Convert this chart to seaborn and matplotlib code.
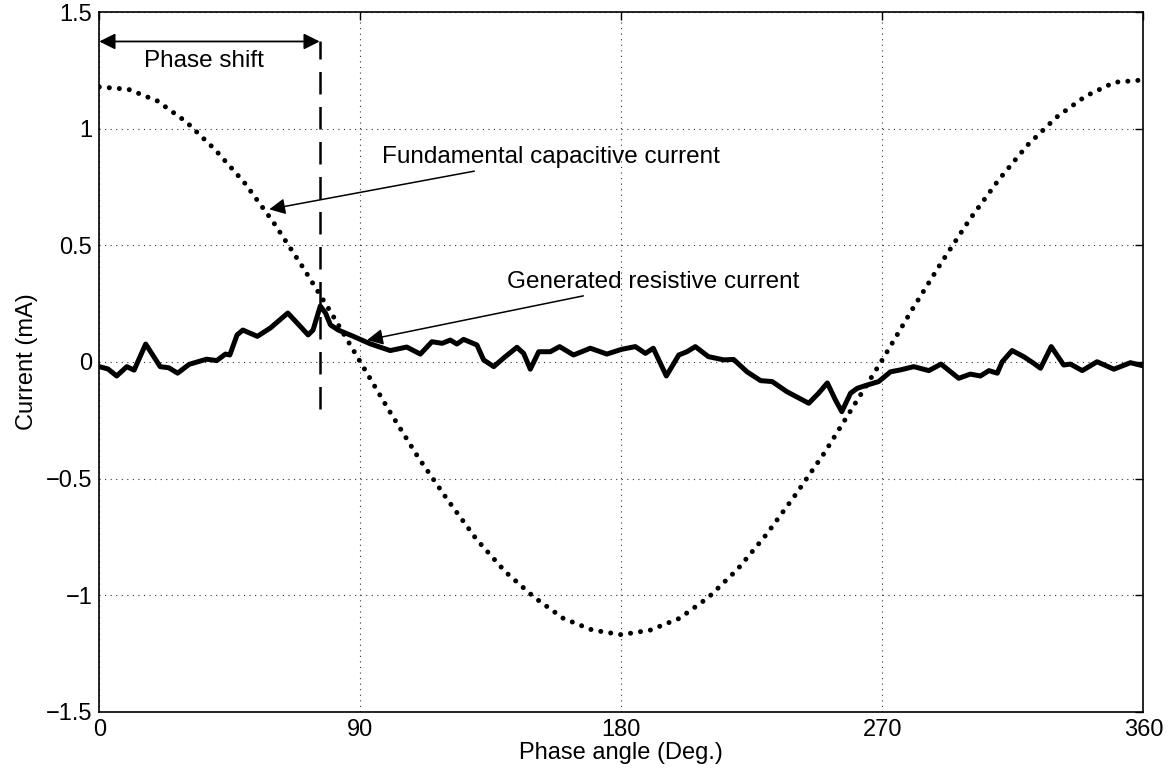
import matplotlib
matplotlib.use("Agg")
import matplotlib.pyplot as plt
import seaborn as sns

# capacitive current (dotted), read every 10 degrees
cap_deg = [0, 10, 20, 30, 40, 50, 60, 70, 80, 90, 100, 110, 120, 130, 140, 150, 160, 170, 180,
           190, 200, 210, 220, 230, 240, 250, 260, 270, 280, 290, 300, 310, 320, 330, 340, 350, 360]
cap_val = [1.18, 1.17, 1.12, 1.03, 0.91, 0.77, 0.60, 0.41, 0.21, 0.00, -0.21, -0.41, -0.59, -0.76,
           -0.90, -1.01, -1.10, -1.15, -1.17, -1.15, -1.10, -1.01, -0.89, -0.74, -0.57, -0.39, -0.19,
           0.01, 0.22, 0.42, 0.61, 0.78, 0.93, 1.05, 1.14, 1.20, 1.21]

# generated resistive current (solid)
res_deg = [0, 3, 6, 9.5, 12, 16, 21, 24, 27, 31, 37, 40.5, 43.5, 45, 47.5, 49.5, 54.5, 59, 65,
           69.5, 72, 73.7, 76.2, 78, 79.7, 82.4, 87.6, 93.4, 100.3, 106, 110.7, 114.7, 118.2, 121,
           123.3, 125.6, 130.2, 132.5, 136, 139.4, 144, 146.3, 148.6, 151.5, 155.5, 158.7, 163.5,
           169.3, 175, 180, 184.8, 188.3, 191, 195.5, 199.8, 202.6, 205.5, 210, 215.3, 218.7, 223.3,
           228, 232, 237, 244.6, 248, 251, 253.8, 256, 259, 261.3, 264.7, 268.7, 272.8, 276.2,
           280.8, 286, 290.2, 296.3, 300.3, 303.8, 306.7, 309.6, 311.3, 314.7, 318.7, 322.2, 324.5,
           328.2, 332.5, 334.8, 338.9, 344, 349.8, 355.5, 360]
res_val = [-0.02, -0.03, -0.06, -0.02, -0.035, 0.077, -0.02, -0.025, -0.048, -0.01, 0.012, 0.006,
           0.034, 0.03, 0.116, 0.137, 0.11, 0.146, 0.21, 0.15, 0.116, 0.137, 0.24, 0.21, 0.159,
           0.137, 0.11, 0.078, 0.049, 0.064, 0.034, 0.087, 0.08, 0.094, 0.077, 0.097, 0.073, 0.009,
           -0.02, 0.017, 0.063, 0.037, -0.031, 0.044, 0.044, 0.066, 0.03, 0.059, 0.034, 0.054,
           0.066, 0.037, 0.059, -0.06, 0.03, 0.044, 0.066, 0.023, 0.009, 0.011, -0.042, -0.08,
           -0.084, -0.127, -0.177, -0.134, -0.09, -0.163, -0.213, -0.134, -0.113, -0.099, -0.084,
           -0.042, -0.034, -0.02, -0.037, -0.009, -0.07, -0.052, -0.06, -0.037, -0.048, 0.001,
           0.049, 0.023, -0.006, -0.027, 0.066, -0.013, -0.009, -0.037, 0.001, -0.031, -0.003,
           -0.017]

x_ticks = [0, 90, 180, 270, 360]
y_ticks = [-1.5, -1, -0.5, 0, 0.5, 1, 1.5]
phase_shift_deg = 76

sns.set_style("white")
plt.rcParams['font.family'] = ['Liberation Sans', 'DejaVu Sans']
plt.rcParams['text.color'] = 'black'
plt.rcParams['axes.labelcolor'] = 'black'

fig = plt.figure(figsize=(11.68, 7.71), dpi=100)
ax = fig.add_axes([0.085, 0.077, 0.894, 0.907])

sns.lineplot(x=cap_deg, y=cap_val, ax=ax, color='black', lw=3.6, estimator=None,
             dashes=False)
ax.lines[-1].set_linestyle((0, (0.01, 2.0)))
ax.lines[-1].set_dash_capstyle('round')
sns.lineplot(x=res_deg, y=res_val, ax=ax, color='black', lw=3.6, estimator=None)
ax.lines[-1].set_solid_joinstyle('round')

# phase shift marker
ax.plot([phase_shift_deg, phase_shift_deg], [-0.2, 1.375], color='black', lw=1.8,
        dashes=(9, 5))
ax.annotate('', xy=(0, 1.375), xytext=(phase_shift_deg, 1.375),
            arrowprops=dict(arrowstyle='<|-|>', color='black', lw=1.3,
                            mutation_scale=24, shrinkA=0, shrinkB=0))
ax.text(36, 1.29, 'Phase shift', ha='center', va='center', fontsize=17.5)

ax.annotate('Fundamental capacitive current', xy=(58.6, 0.655), xytext=(97.5, 0.88),
            fontsize=17.5, va='center', ha='left',
            arrowprops=dict(arrowstyle='-|>', color='black', lw=1.1,
                            mutation_scale=24, shrinkA=0, shrinkB=0))
ax.annotate('Generated resistive current', xy=(92.3, 0.094), xytext=(140.6, 0.345),
            fontsize=17.5, va='center', ha='left',
            arrowprops=dict(arrowstyle='-|>', color='black', lw=1.1,
                            mutation_scale=24, shrinkA=0, shrinkB=0))

ax.set_xlim(0, 360)
ax.set_ylim(-1.5, 1.5)
ax.set_xticks(x_ticks)
ax.set_yticks(y_ticks)
ax.set_yticklabels(['\u22121.5', '\u22121', '\u22120.5', '0', '0.5', '1', '1.5'])
ax.grid(True, color='0.2', linestyle=(0, (1, 4)), lw=0.8)
ax.tick_params(direction='in', top=True, right=True, length=6, width=1,
               labelsize=17, colors='black', pad=5)
for s in ax.spines.values():
    s.set_color('black')
    s.set_linewidth(1.2)
ax.set_xlabel('Phase angle (Deg.)', fontsize=17, labelpad=1)
ax.set_ylabel('Current (mA)', fontsize=17, labelpad=6)

fig.savefig('out.png', dpi=100)
